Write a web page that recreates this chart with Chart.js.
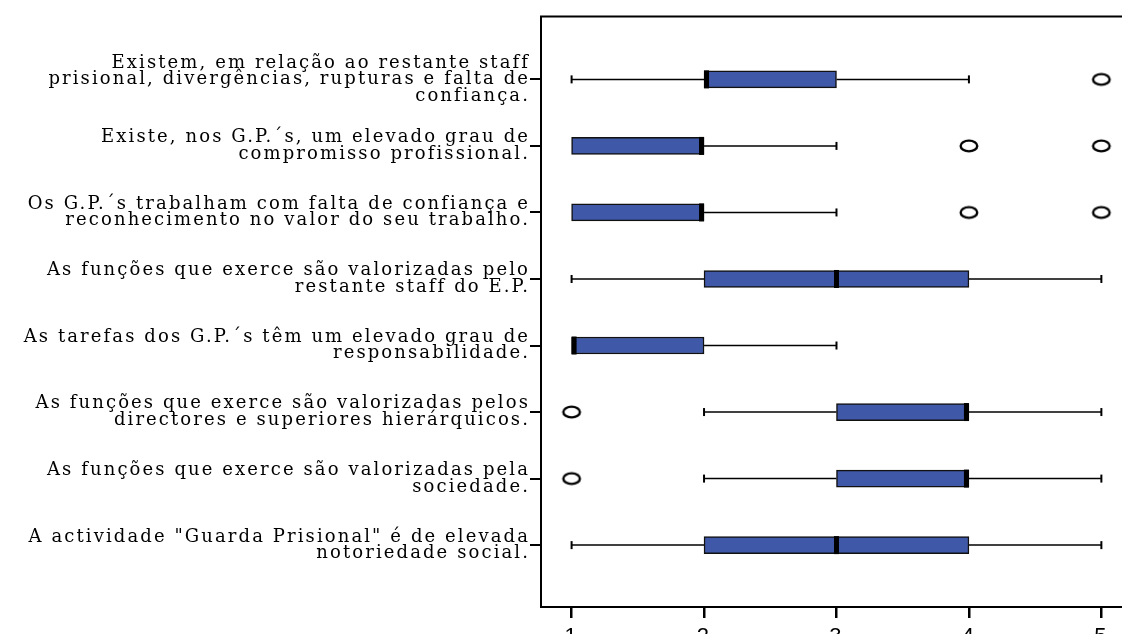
<!DOCTYPE html>
<html>
<head>
<meta charset="utf-8">
<script src="https://cdn.jsdelivr.net/npm/chart.js@4/dist/chart.umd.min.js"></script>
<style>
  html, body { margin: 0; padding: 0; background: #fff; overflow: hidden; }
  #wrap { width: 1142px; height: 650px; }
</style>
</head>
<body>
<div id="wrap"><canvas id="boxChart" width="1142" height="650"></canvas></div>
<script>
// Categorías (de arriba a abajo), cada una partida en líneas
var categorias = [
  ["Existem, em relação ao restante staff", "prisional, divergências, rupturas e falta de", "confiança."],
  ["Existe, nos G.P.´s, um elevado grau de", "compromisso profissional."],
  ["Os G.P.´s trabalham com falta de confiança e", "reconhecimento no valor do seu trabalho."],
  ["As funções que exerce são valorizadas pelo", "restante staff do E.P."],
  ["As tarefas dos G.P.´s têm um elevado grau de", "responsabilidade."],
  ["As funções que exerce são valorizadas pelos", "directores e superiores hierárquicos."],
  ["As funções que exerce são valorizadas pela", "sociedade."],
  ["A actividade \"Guarda Prisional\" é de elevada", "notoriedade social."]
];

// Estadísticos de cada caja
var minimos   = [1, 1, 1, 1, 1, 2, 2, 1];
var cuartil1  = [2, 1, 1, 2, 1, 3, 3, 2];
var medianas  = [2, 2, 2, 3, 1, 4, 4, 3];
var cuartil3  = [3, 2, 2, 4, 2, 4, 4, 4];
var maximos   = [4, 3, 3, 5, 3, 5, 5, 5];
var atipicos  = [[5], [4, 5], [4, 5], [], [], [1], [1], []];

var ticksX = [1, 2, 3, 4, 5];

var cajas = categorias.map(function (c, i) {
  return { x: [cuartil1[i], cuartil3[i]], y: i };
});
var puntos = [];
atipicos.forEach(function (lista, i) {
  lista.forEach(function (v) { puntos.push({ x: v, y: i }); });
});

// Marcador elíptico para los valores atípicos
var marca = document.createElement("canvas");
marca.width = 22;
marca.height = 16;
var mctx = marca.getContext("2d");
mctx.beginPath();
mctx.ellipse(11, 8, 8.3, 5.4, 0, 0, Math.PI * 2);
mctx.fillStyle = "#fff";
mctx.fill();
mctx.lineWidth = 2.4;
mctx.strokeStyle = "#000";
mctx.stroke();

// Espaciado de letras para las etiquetas (el original se ve estirado)
var espaciado = {
  id: "espaciado",
  beforeLayout: function (chart) { chart.ctx.letterSpacing = "2.1px"; },
  beforeDraw: function (chart) { chart.ctx.letterSpacing = "2.1px"; },
  beforeDatasetsDraw: function (chart) { chart.ctx.letterSpacing = "0px"; },
};

var bigotes = {
  id: "bigotes",
  beforeDatasetsDraw: function (chart) {
    var ctx = chart.ctx, xs = chart.scales.x, ys = chart.scales.y;
    ctx.save();
    ctx.strokeStyle = "#000";
    categorias.forEach(function (c, i) {
      var y = ys.getPixelForValue(i);
      var pares = [[minimos[i], cuartil1[i]], [cuartil3[i], maximos[i]]];
      pares.forEach(function (p, k) {
        if (p[0] === p[1]) return;
        var a = xs.getPixelForValue(p[0]), b = xs.getPixelForValue(p[1]);
        ctx.lineWidth = 1.5;
        ctx.beginPath();
        ctx.moveTo(a, y);
        ctx.lineTo(b, y);
        ctx.stroke();
        var extremo = k === 0 ? a : b;
        ctx.lineWidth = 2;
        ctx.beginPath();
        ctx.moveTo(extremo, y - 4);
        ctx.lineTo(extremo, y + 4);
        ctx.stroke();
      });
    });
    ctx.restore();
  },
  afterDatasetsDraw: function (chart) {
    var ctx = chart.ctx, xs = chart.scales.x, ys = chart.scales.y;
    ctx.save();
    ctx.fillStyle = "#000";
    categorias.forEach(function (c, i) {
      var y = ys.getPixelForValue(i);
      var x = xs.getPixelForValue(medianas[i]);
      var dx = medianas[i] === cuartil1[i] ? 0 : (medianas[i] === cuartil3[i] ? -5 : -2.5);
      ctx.fillRect(x + dx, y - 9, 5, 18);
    });
    // marco superior
    var a = chart.chartArea;
    ctx.strokeStyle = "#000";
    ctx.lineWidth = 2;
    ctx.beginPath();
    ctx.moveTo(a.left - 1, a.top);
    ctx.lineTo(a.right, a.top);
    ctx.stroke();
    ctx.restore();
  }
};

var ctx = document.getElementById("boxChart").getContext("2d");
var boxChart = new Chart(ctx, {
  type: "bar",
  data: {
    datasets: [
      {
        type: "bar",
        indexAxis: "y",
        data: cajas,
        backgroundColor: "#3F58A8",
        borderColor: "#111",
        borderWidth: 1.5,
        borderSkipped: false,
        barThickness: 17,
      },
      {
        type: "scatter",
        data: puntos,
        pointStyle: marca,
      },
    ],
  },
  plugins: [espaciado, bigotes],
  options: {
    responsive: false,
    animation: false,
    layout: { padding: { left: 0, right: 0, top: 10, bottom: 0 } },
    scales: {
      x: {
        type: "linear",
        min: 0.769,
        max: 5.269,
        offset: false,
        afterBuildTicks: function (s) {
          s.ticks = ticksX.map(function (v) { return { value: v }; });
        },
        afterFit: function (s) { s.height = 43; },
        grid: { drawOnChartArea: false, drawTicks: true, tickLength: 11, color: "#000", lineWidth: 2.5, offset: false },
        border: { color: "#000", width: 2 },
        ticks: {
          color: "#000",
          padding: 6,
          maxRotation: 0,
          font: { family: "'Liberation Sans', Arial, sans-serif", size: 22 },
        },
      },
      y: {
        type: "linear",
        reverse: true,
        min: -0.945,
        max: 7.93,
        offset: false,
        afterBuildTicks: function (s) {
          s.ticks = categorias.map(function (c, i) { return { value: i }; });
        },
        afterFit: function (s) { s.width = 541; },
        grid: { drawOnChartArea: false, drawTicks: true, tickLength: 11, color: "#000", lineWidth: 2, offset: false },
        border: { color: "#000", width: 2 },
        ticks: {
          color: "#000",
          padding: 0,
          autoSkip: false,
          font: { family: "'DejaVu Serif', 'Liberation Serif', serif", size: 18, lineHeight: "16.5px" },
          callback: function (value) { return categorias[value]; },
        },
      },
    },
    plugins: {
      legend: { display: false },
      tooltip: { enabled: false },
    },
  },
});
</script>
</body>
</html>
